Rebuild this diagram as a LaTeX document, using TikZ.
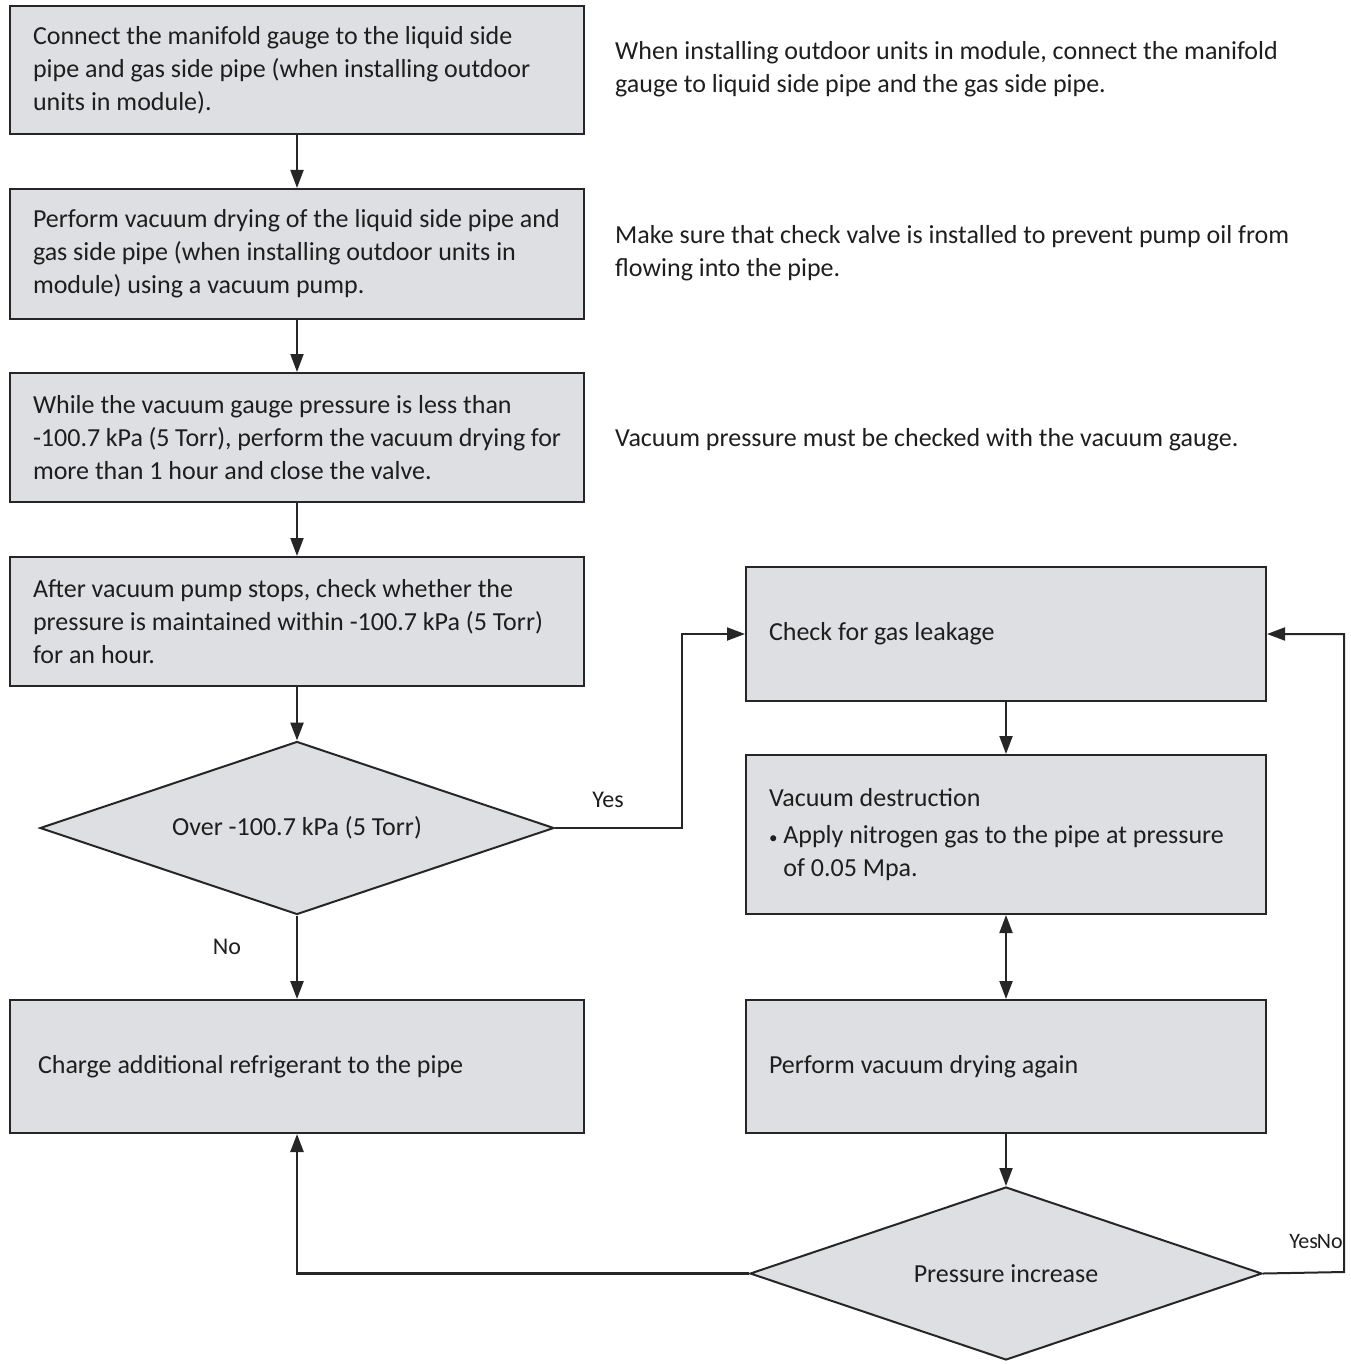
\documentclass[tikz,border=0pt]{standalone}
\usepackage{fontspec}
\setmainfont{Carlito}
\usetikzlibrary{shapes.geometric,arrows.meta}
\definecolor{stepgray}{RGB}{221,223,226}
\definecolor{edgegray}{RGB}{38,38,38}
\definecolor{inkgray}{RGB}{30,30,30}
\newcommand{\smallbullet}{{\fontsize{17}{17}\selectfont\textbullet}}
\tikzset{
  stepbox/.style={draw=edgegray,fill=stepgray,line width=2pt,
    minimum width=574pt,minimum height=129pt,text width=528pt,
    align=flush left,inner sep=0pt,text=inkgray,font=\fontsize{26}{33}\selectfont},
  sidebox/.style={stepbox,minimum width=520pt,text width=474pt},
  choice/.style={diamond,draw=edgegray,fill=stepgray,line width=2pt,
    inner sep=0pt,text=inkgray,font=\fontsize{26}{33}\selectfont},
  note/.style={anchor=west,align=flush left,inner sep=0pt,text=inkgray,
    font=\fontsize{26}{33}\selectfont},
  tag/.style={inner sep=0pt,text=inkgray,font=\fontsize{24}{28}\selectfont},
  flow/.style={draw=edgegray,line width=2pt,-{Triangle[length=18pt,width=13pt]}}
}

\begin{document}
\begin{tikzpicture}[x=1pt,y=-1pt]
  \useasboundingbox (0,0) rectangle (1350,1364);
  % left column
  \node[stepbox,minimum height=128pt] (b1) at (297,70)
    {Connect the manifold gauge to the liquid side\\
     pipe and gas side pipe (when installing outdoor\\
     units in module).};
  \node[stepbox,minimum height=130pt] (b2) at (297,254)
    {Perform vacuum drying of the liquid side pipe and\\
     gas side pipe (when installing outdoor units in\\
     module) using a vacuum pump.};
  \node[stepbox] (b3) at (297,437.5)
    {While the vacuum gauge pressure is less than\\
     -100.7 kPa (5 Torr), perform the vacuum drying for\\
     more than 1 hour and close the valve.};
  \node[stepbox] (b4) at (297,621.5)
    {After vacuum pump stops, check whether the\\
     pressure is maintained within -100.7 kPa (5 Torr)\\
     for an hour.};
  \node[choice,aspect=2.97,minimum width=514pt,minimum height=173pt] (d1) at (297,828)
    {Over -100.7 kPa (5 Torr)};
  \node[stepbox,minimum height=133pt,text width=518pt] (b5) at (297,1066.5)
    {Charge additional refrigerant to the pipe};
  % right column
  \node[sidebox,minimum height=134pt] (chk) at (1006,634)
    {Check for gas leakage};
  \node[sidebox,minimum height=159pt] (vds) at (1006,834.5)
    {Vacuum destruction\\[4pt]
     \smallbullet\ Apply nitrogen gas to the pipe at pressure\\
     \phantom{\smallbullet\ }of 0.05 Mpa.};
  \node[sidebox,minimum height=133pt] (agn) at (1006,1066.5)
    {Perform vacuum drying again};
  \node[choice,aspect=2.96,minimum width=512pt,minimum height=173pt] (d2) at (1006,1273.5)
    {Pressure increase};
  % notes
  \node[note] (n1) at (615,69)
    {When installing outdoor units in module, connect the manifold\\
     gauge to liquid side pipe and the gas side pipe.};
  \node[note] (n2) at (615,253.5)
    {Make sure that check valve is installed to prevent pump oil from\\
     flowing into the pipe.};
  \node[note] (n3) at (615,440)
    {Vacuum pressure must be checked with the vacuum gauge.};
  % connectors
  \coordinate (ybend) at (682,828);
  \coordinate (nbend) at (1344,1272);
  \draw[flow] (b1) -- (b2);
  \draw[flow] (b2) -- (b3);
  \draw[flow] (b3) -- (b4);
  \draw[flow,line width=2.6pt] (b4) -- (d1);
  \draw[flow,line width=2.6pt] (d1) -- (b5);
  \draw[flow] (d1.east) -- (ybend) |- (chk.west);
  \draw[flow] (chk) -- (vds);
  \draw[flow,{Triangle[length=18pt,width=13pt]}-{Triangle[length=18pt,width=13pt]}] (vds) -- (agn);
  \draw[flow] (agn) -- (d2);
  \draw[flow,line width=2.6pt] (d2.west) -| (b5.south);
  \draw[flow] (d2.east) -- (nbend) |- (chk.east);
  \node[tag] (yes1) at (608,800) {Yes};
  \node[tag] (no1) at (227,947) {No};
  \node[tag,font=\fontsize{22}{26}\selectfont] (yesno) at (1316,1242) {Yes\kern-1pt No};
\end{tikzpicture}
\end{document}
